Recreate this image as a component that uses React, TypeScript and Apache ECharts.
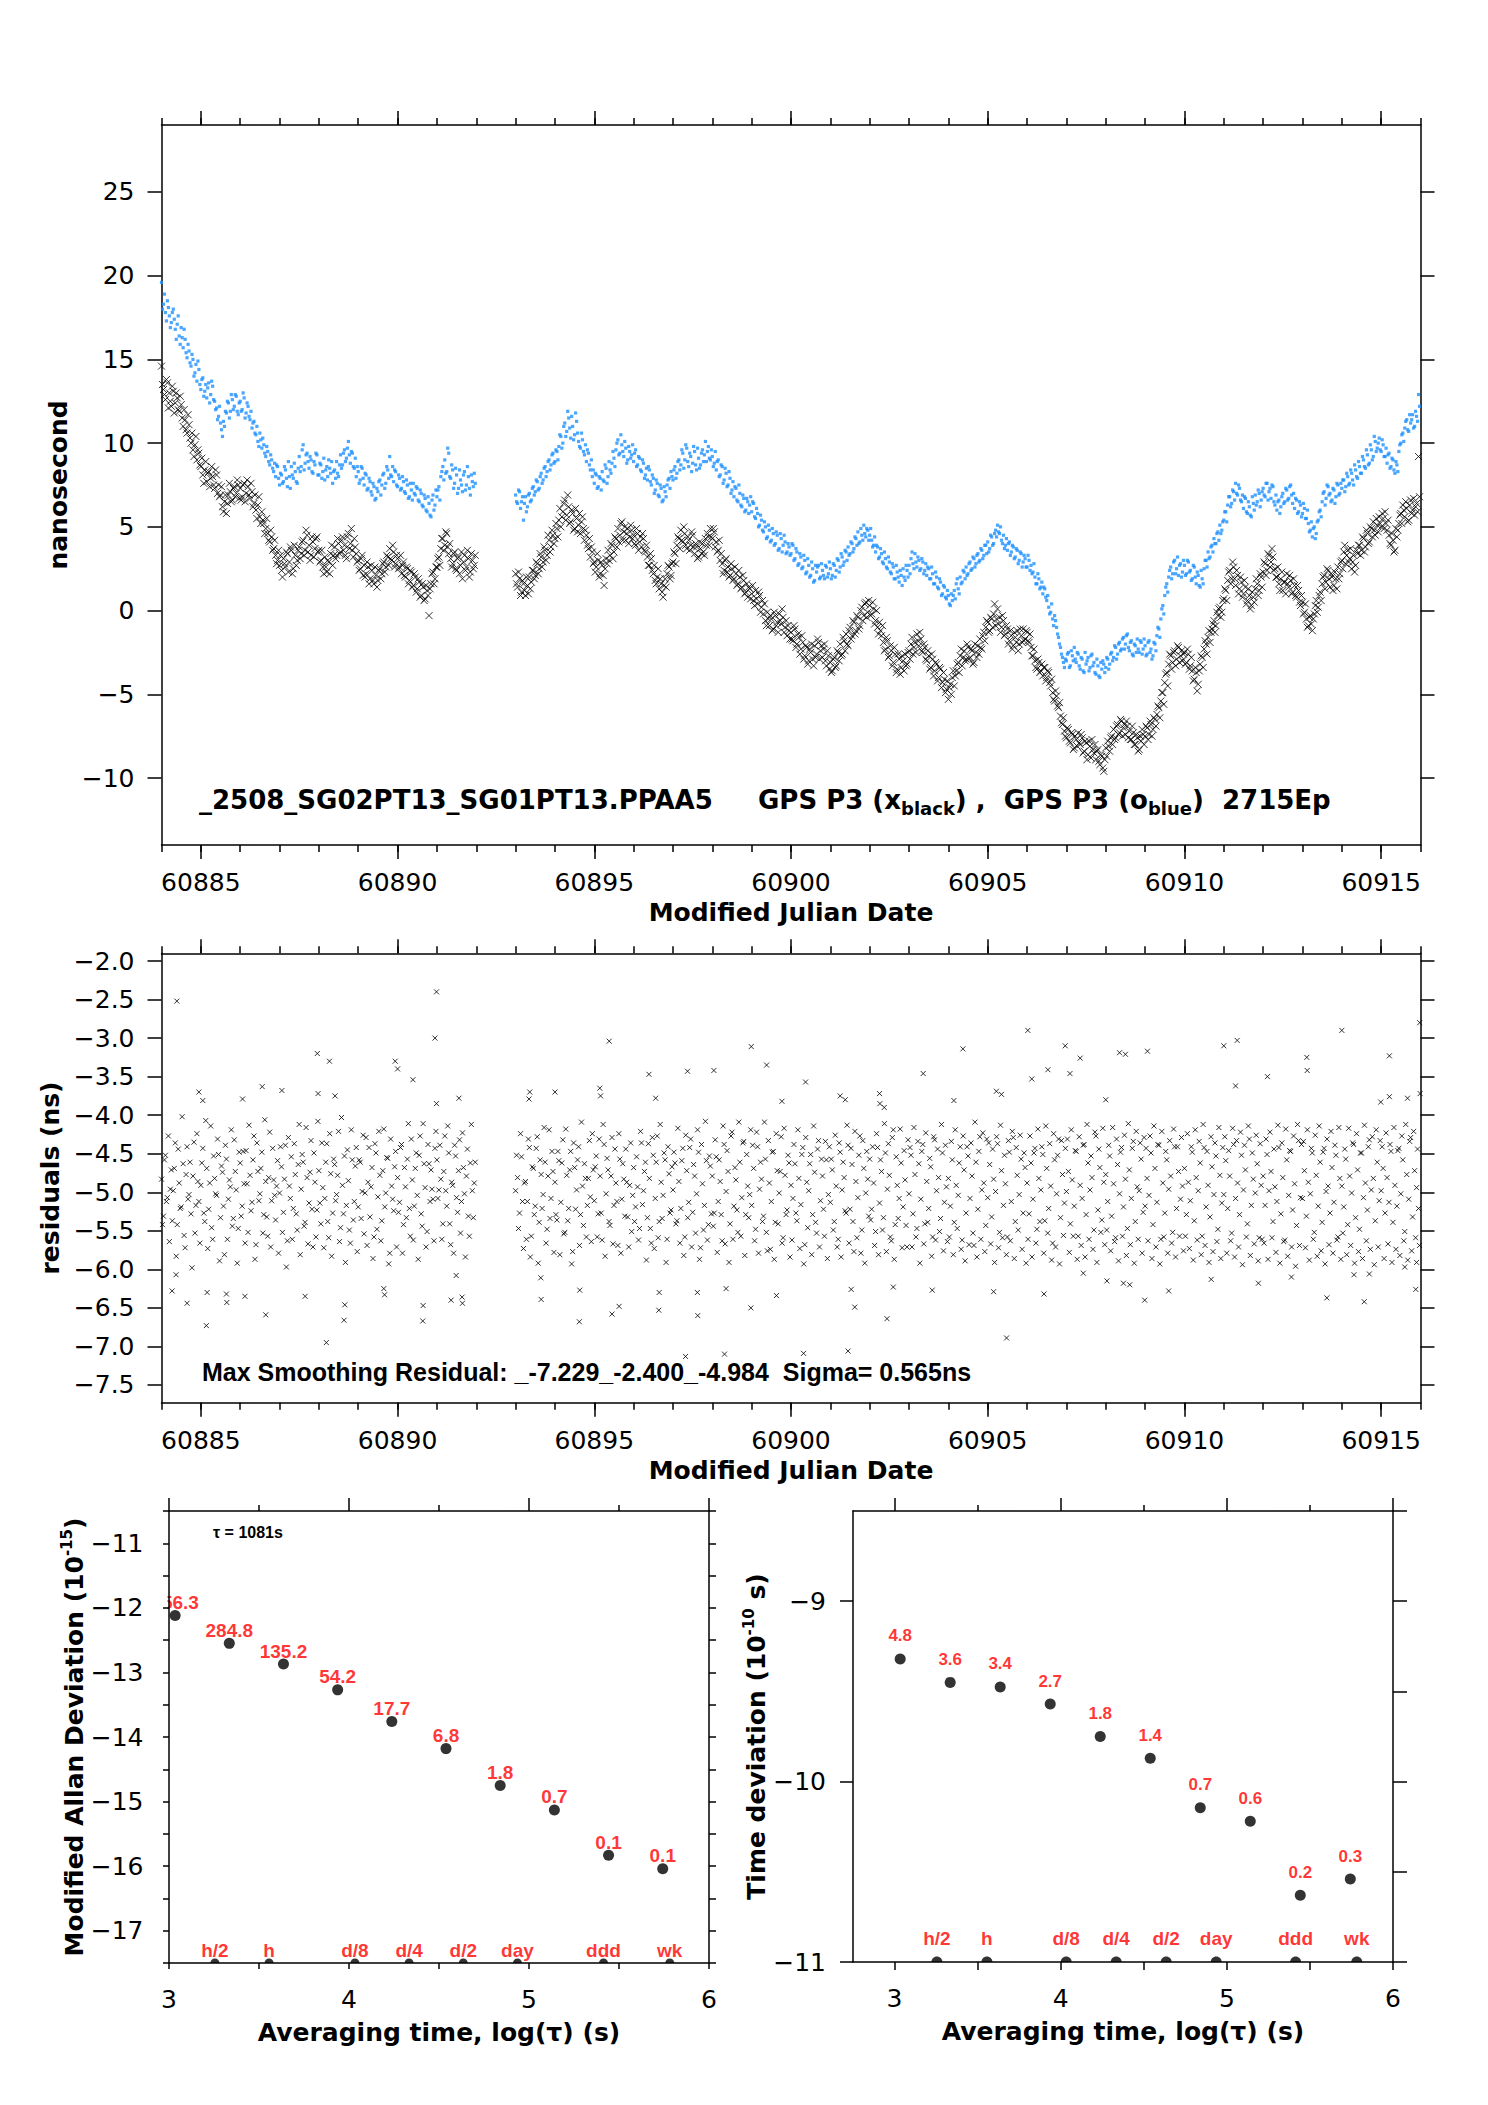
import React, { useEffect, useRef } from 'react';
import * as echarts from 'echarts';

const FONT = '"DejaVu Sans", sans-serif';
const FONT_H = '"Liberation Sans", Arial, sans-serif';
const BLUE = '#1e90ff';
const RED = '#ff0000';

// ---- Top & middle panels: epochs every 0.05 d in two segments (second set offset by half a step) ----
const EPOCH_STEP = 0.05;
const HALF_STEP = 0.025;
const SEG1_START = 60884.0;
const SEG2_START = 60893.0;
const MJD_MIN = 60884;
const MJD_MAX = 60916;
const mjdLabels = [60885, 60890, 60895, 60900, 60905, 60910, 60915];
const nsTicks = [-10, -5, 0, 5, 10, 15, 20, 25];
const residTicks = [-7.5, -7.0, -6.5, -6.0, -5.5, -5.0, -4.5, -4.0, -3.5, -3.0, -2.5, -2.0];

// GPS P3 (x, black) ns
const blackSeg1 = [
  14.6,13.2,12.6,13.6,13.0,12.2,13.1,12.4,12.7,11.9,12.3,11.0,11.4,10.6,11.1,10.0,9.6,9.9,9.0,9.4,
  8.6,8.1,8.4,7.7,8.3,7.9,8.0,7.3,8.1,7.5,6.9,6.2,6.5,5.8,6.9,7.1,6.6,7.4,7.0,7.5,
  7.3,6.8,7.6,7.0,7.4,6.7,7.1,6.4,6.0,6.3,5.6,5.9,5.2,4.9,4.6,4.1,4.4,3.7,3.3,3.0,
  2.7,2.4,3.1,2.6,3.4,2.9,3.6,2.5,3.3,3.0,3.8,3.4,4.2,3.6,4.5,3.9,3.3,4.1,3.7,4.4,
  3.6,3.0,2.6,3.2,2.3,2.9,3.4,2.7,3.8,3.3,4.0,3.5,4.4,3.9,3.1,4.6,4.0,3.6,4.3,3.4,
  3.0,2.5,3.3,2.7,2.2,2.6,1.9,2.4,1.6,2.1,1.8,2.5,2.2,2.9,2.6,3.2,3.7,3.0,3.5,2.8,
  3.1,2.6,2.2,2.9,2.0,2.5,1.8,2.3,1.5,2.0,1.3,1.7,0.9,1.4,0.7,1.2,-0.3,1.6,2.3,1.9,
  2.6,3.2,3.7,4.3,3.9,4.6,3.4,3.1,2.8,3.5,2.4,3.2,2.7,1.9,3.3,2.6,3.1,2.3,3.0,2.7,
];
const blackSeg1b = [
  13.5,12.9,13.8,12.1,12.5,13.4,11.8,13.0,12.0,12.8,11.5,12.0,10.8,11.7,10.3,10.6,9.2,10.4,9.6,8.7,
  9.1,7.6,8.9,8.2,7.4,8.6,7.5,8.4,7.0,6.8,7.4,5.9,6.9,6.4,7.6,6.5,7.3,6.8,7.8,6.7,
  6.6,7.5,6.5,7.8,6.9,7.6,6.2,6.9,5.5,6.8,5.2,5.4,4.6,5.5,4.2,4.8,3.6,4.2,2.8,3.6,
  3.3,2.0,2.8,3.5,2.3,3.8,2.2,3.9,2.7,3.6,3.1,4.1,3.3,4.8,3.5,3.0,4.4,3.2,4.3,3.5,
  2.9,3.6,2.2,2.6,3.0,2.2,3.9,3.3,3.1,4.3,3.4,4.2,3.6,3.3,4.4,3.7,4.9,3.2,3.8,2.9,
  2.4,3.1,2.1,2.0,2.9,1.6,2.7,1.8,2.6,1.4,2.4,1.9,2.8,2.3,3.3,2.7,3.1,3.9,2.6,3.3,
  2.5,3.3,2.7,2.1,2.6,1.6,2.4,1.4,2.2,1.1,1.9,0.8,1.6,0.6,1.5,0.9,1.3,2.2,1.6,2.6,
  3.1,2.7,4.3,3.6,4.7,3.8,4.0,2.6,3.4,2.5,3.1,2.2,3.5,2.9,2.4,3.6,2.0,3.4,2.5,3.3,
];
const blackSeg2 = [
  2.2,1.4,1.9,1.1,1.6,0.9,1.5,2.0,1.7,2.4,2.1,2.8,2.5,3.2,2.9,3.6,3.3,4.2,3.8,4.5,
  4.3,4.9,5.4,5.0,5.9,6.6,5.7,6.2,5.3,5.8,4.9,5.5,5.1,4.6,5.6,4.2,4.5,3.7,3.2,3.5,
  2.9,2.6,3.0,2.2,2.7,1.5,3.1,3.6,3.3,3.9,3.5,4.3,4.9,4.5,5.3,4.7,4.2,4.9,4.4,4.8,
  4.5,3.9,4.6,4.1,3.8,4.3,3.5,3.2,2.7,3.1,2.2,1.8,2.0,1.3,1.6,0.8,1.9,2.2,2.6,2.1,
  2.9,3.4,3.9,4.3,4.8,4.1,4.6,3.7,4.2,3.9,4.5,3.4,3.8,3.2,3.7,4.0,3.3,3.9,4.4,4.9,
  4.3,4.7,4.1,3.6,3.0,2.8,2.4,3.1,2.6,2.1,2.5,1.9,2.2,1.6,2.0,1.4,1.8,1.1,0.8,1.3,
  1.0,0.6,1.2,0.4,0.9,0.2,-0.2,-0.6,-0.1,-0.9,-0.5,-1.1,-0.3,-0.7,-0.2,-0.8,-0.4,-1.0,-1.5,-1.2,
  -1.3,-1.8,-1.1,-2.0,-1.6,-2.3,-1.9,-2.7,-2.2,-3.0,-2.5,-2.9,-2.1,-2.6,-1.9,-2.4,-2.8,-2.0,-3.3,-2.7,
  -3.1,-3.6,-2.8,-3.3,-2.5,-2.0,-2.6,-1.8,-1.4,-2.1,-1.0,-1.5,-0.7,-1.2,-0.4,-0.9,0.2,-0.3,0.5,-0.1,
  0.3,-0.2,0.1,-0.6,-1.0,-0.7,-1.5,-1.9,-2.3,-1.8,-2.7,-2.4,-3.1,-2.6,-3.5,-2.9,-3.4,-3.0,-2.6,-3.2,
  -2.4,-2.0,-2.6,-1.9,-1.4,-2.1,-1.7,-2.5,-2.2,-3.0,-2.7,-3.4,-2.9,-3.6,-3.2,-4.0,-3.5,-4.3,-4.1,-4.7,
  -5.3,-4.4,-4.0,-4.5,-3.6,-3.1,-2.7,-3.3,-2.4,-2.9,-2.2,-2.8,-2.4,-3.1,-2.5,-2.1,-1.7,-2.3,-1.3,-1.0,
  -0.7,-1.2,-0.5,-0.2,-0.9,0.1,-0.4,-1.0,-0.6,-1.4,-1.1,-1.8,-1.5,-2.1,-1.6,-1.2,-2.0,-1.5,-1.1,-1.7,
  -1.3,-1.9,-2.2,-2.7,-3.0,-3.5,-3.1,-3.6,-3.9,-3.4,-4.0,-3.7,-4.5,-4.9,-5.4,-5.1,-5.8,-6.3,-6.8,-7.2,
  -7.6,-7.1,-7.9,-7.4,-8.2,-7.7,-7.3,-8.0,-7.6,-8.4,-7.9,-8.6,-8.1,-7.7,-8.5,-8.9,-8.3,-9.2,-8.7,-9.6,
  -8.2,-7.8,-8.4,-7.5,-7.1,-7.6,-6.8,-7.3,-6.6,-7.0,-7.4,-6.9,-7.2,-7.7,-7.3,-8.0,-7.6,-8.3,-7.8,-7.4,
  -7.5,-7.0,-7.4,-6.8,-7.1,-6.5,-6.2,-5.8,-5.4,-4.9,-4.3,-3.7,-3.2,-2.7,-3.1,-2.4,-2.9,-2.2,-2.7,-3.0,
  -2.5,-3.1,-2.6,-3.3,-3.6,-4.1,-3.7,-4.4,-3.2,-2.8,-2.3,-2.0,-1.6,-1.9,-1.1,-0.6,-0.9,-0.3,0.2,-0.1,
  0.7,1.2,1.8,2.4,1.9,2.6,1.5,2.1,1.3,1.7,1.0,1.4,0.6,0.9,0.3,0.8,1.3,1.6,1.2,2.0,
  2.3,2.8,2.4,3.3,2.9,3.2,2.5,2.0,1.6,1.9,1.2,1.7,2.2,1.4,1.8,1.1,1.5,0.8,1.2,0.3,
  0.5,-0.1,-0.5,-0.9,-0.3,-1.2,-0.2,0.6,0.2,1.1,1.6,2.1,1.7,2.4,1.4,2.0,1.5,1.9,2.6,2.2,
  3.0,3.5,2.8,3.6,3.1,2.5,3.3,2.7,3.4,3.9,3.6,4.3,3.8,4.6,4.1,4.9,5.3,4.5,5.1,5.6,
  5.0,5.5,5.9,4.8,4.5,3.9,4.2,3.6,4.4,5.2,5.8,6.3,5.6,6.1,5.4,6.6,6.0,5.7,6.4,9.2,
];
const blackSeg2b = [
  1.6,2.3,0.9,1.8,1.2,2.0,1.0,1.3,2.4,1.9,2.9,2.2,3.4,2.6,3.8,3.0,4.5,3.5,4.8,4.0,
  5.2,4.4,6.1,5.6,6.4,5.4,6.9,5.2,6.0,4.8,6.1,4.7,5.8,5.3,4.9,4.8,3.9,4.3,3.8,2.8,
  2.3,3.4,2.0,2.9,2.1,2.5,2.8,3.0,4.0,3.1,4.4,3.8,4.1,5.2,4.2,5.0,4.6,4.0,5.1,4.3,
  4.0,4.9,3.6,4.4,4.6,3.6,3.9,2.7,3.4,2.4,2.7,1.6,2.5,1.9,1.1,1.5,1.4,2.7,1.9,2.8,
  3.5,2.8,4.4,3.7,4.2,5.0,3.9,4.4,3.6,4.7,3.8,4.0,3.1,4.1,3.4,3.5,4.3,4.6,3.9,4.4,
  4.9,3.8,3.5,4.2,3.4,2.2,3.0,2.3,2.0,2.8,1.8,2.6,1.5,2.4,1.3,2.1,1.0,1.6,1.4,0.7,
  1.5,0.3,0.7,1.1,-0.1,0.6,0.4,-0.9,-0.5,-0.3,-1.2,-0.1,-0.9,-1.3,-0.6,0.1,-1.3,-0.6,-0.9,-1.7,
  -1.7,-0.9,-2.2,-1.4,-2.6,-1.5,-2.9,-2.1,-3.2,-2.3,-2.0,-3.3,-2.8,-1.7,-2.9,-2.1,-2.3,-3.0,-2.4,-3.5,
  -3.7,-2.9,-3.4,-2.4,-3.0,-2.7,-1.6,-2.4,-2.0,-1.2,-1.7,-0.6,-1.4,-0.3,-1.1,0.0,-0.6,0.4,-0.4,0.6,
  -0.3,0.5,-0.8,0.0,-1.4,-1.2,-0.9,-2.4,-1.6,-2.8,-2.1,-3.3,-2.2,-3.7,-2.6,-3.8,-2.7,-3.6,-3.3,-2.5,
  -2.9,-1.6,-2.2,-2.5,-1.8,-1.3,-2.4,-2.0,-2.9,-2.4,-3.5,-2.6,-3.9,-3.1,-4.2,-3.4,-4.6,-3.7,-4.9,-4.2,
  -4.6,-5.0,-3.6,-3.9,-3.2,-3.7,-2.3,-2.8,-3.0,-2.0,-2.9,-2.3,-3.2,-2.0,-2.8,-2.6,-2.2,-1.5,-1.8,-0.6,
  -1.3,-0.4,-1.0,0.4,-0.5,-0.8,-1.3,-0.3,-1.5,-0.9,-2.0,-1.2,-2.3,-1.3,-1.9,-2.4,-1.1,-1.9,-1.8,-1.2,
  -1.8,-1.4,-2.7,-2.3,-3.4,-2.9,-3.7,-3.2,-3.4,-4.2,-3.6,-4.3,-4.1,-5.3,-4.8,-5.7,-5.5,-6.7,-6.4,-7.5,
  -7.0,-7.8,-7.3,-8.3,-7.5,-8.1,-7.9,-7.4,-8.5,-7.8,-8.9,-7.8,-8.8,-8.3,-8.0,-8.4,-9.0,-8.6,-9.4,-8.9,
  -8.7,-8.1,-7.6,-8.0,-7.7,-6.9,-7.4,-6.5,-7.5,-6.8,-6.6,-7.6,-7.7,-6.9,-8.0,-7.4,-8.4,-7.5,-7.1,-8.0,
  -6.9,-7.7,-6.6,-7.5,-6.4,-6.9,-5.7,-6.4,-4.9,-5.6,-3.8,-4.5,-2.6,-3.5,-2.5,-3.3,-2.1,-3.1,-2.4,-2.6,
  -3.2,-2.3,-3.5,-2.8,-4.2,-3.4,-4.8,-3.6,-2.7,-3.4,-1.8,-2.6,-1.2,-1.3,-0.8,-1.3,-0.1,0.1,-0.4,0.6,
  1.3,0.6,2.3,1.6,2.9,1.9,2.4,1.0,2.0,0.8,1.8,0.4,1.3,0.1,1.1,0.5,1.9,0.9,2.2,1.4,
  2.9,2.1,3.4,2.6,3.7,2.4,2.0,2.6,1.2,2.3,1.7,1.0,1.6,2.1,1.0,1.9,0.9,1.5,0.5,0.9,
  -0.2,0.4,-1.0,-0.4,-0.8,-0.5,0.3,-0.1,0.9,0.6,2.0,1.3,2.5,1.9,2.2,1.2,2.3,1.3,1.9,2.9,
  2.5,3.9,3.3,2.9,3.7,2.9,2.3,3.6,3.9,3.3,4.4,3.5,4.8,4.0,5.0,4.4,4.8,5.5,4.7,5.2,
  5.8,4.9,5.2,5.4,4.0,4.6,3.5,4.9,4.8,5.7,5.2,6.0,6.5,5.3,6.3,5.8,6.7,6.2,5.9,6.8,
];

// GPS P3 (o, blue) ns
const blueSeg1 = [
  19.6,18.3,17.8,18.5,17.6,17.2,18.0,16.8,17.1,16.4,16.9,15.7,16.2,15.1,15.5,14.6,15.0,14.2,13.7,14.4,
  13.2,13.9,13.1,12.7,13.6,12.9,13.4,12.5,12.1,11.6,11.2,10.4,11.0,11.8,12.4,11.9,12.6,12.2,12.8,11.7,
  12.5,12.0,12.7,11.8,12.2,11.4,10.9,11.3,10.5,10.1,10.6,9.7,9.9,9.2,9.5,8.7,9.0,8.3,8.0,8.6,
  7.5,8.1,7.7,8.4,7.4,8.0,8.6,7.9,8.3,7.6,9.2,8.6,9.9,8.8,9.4,8.5,9.0,8.2,8.7,9.3,
  8.1,8.7,8.3,7.8,8.6,9.0,8.2,7.6,8.4,8.9,8.0,9.3,8.7,9.6,9.1,10.1,8.8,9.4,8.5,8.0,
  8.3,7.8,8.5,7.5,8.1,7.3,7.7,6.9,7.4,6.7,7.1,7.8,7.5,8.2,7.6,8.4,9.2,8.0,7.7,8.3,
  7.4,7.9,7.3,7.7,7.0,7.5,6.8,7.2,7.6,6.9,7.3,6.5,7.0,6.2,6.7,5.9,6.4,5.6,6.9,6.3,
  6.8,7.4,8.0,8.6,9.0,8.3,9.4,7.9,8.4,7.6,8.1,7.3,7.8,7.1,8.3,7.5,8.0,6.9,7.7,8.2,
];
const blueSeg1b = [
  18.0,18.9,17.3,18.1,16.9,17.8,17.4,16.2,17.6,15.9,16.3,16.8,15.4,15.9,14.8,15.3,14.0,14.7,14.9,13.5,
  13.8,12.8,13.5,13.3,12.4,13.7,12.6,12.0,11.4,12.2,10.8,11.3,11.9,12.5,11.5,12.9,12.0,12.9,11.9,12.4,
  11.9,13.0,11.5,12.4,11.6,11.9,11.2,10.6,11.0,9.8,10.2,10.3,9.4,9.8,8.9,9.3,8.5,8.8,8.7,7.9,
  8.2,7.6,8.6,7.9,8.9,7.3,8.1,8.8,7.7,8.5,8.3,9.6,8.4,9.3,8.9,9.2,8.3,8.9,9.4,8.1,
  8.8,7.9,9.1,8.4,8.0,8.5,8.9,8.3,7.9,8.2,8.7,8.5,9.4,8.9,9.7,9.3,9.5,8.6,9.1,8.6,
  7.6,8.6,7.9,8.2,7.2,7.9,7.1,7.6,6.6,7.3,7.7,6.9,8.1,7.3,8.6,7.9,8.1,8.6,8.4,7.5,
  8.1,7.2,8.0,7.1,7.8,6.7,7.6,6.6,7.0,7.4,6.6,7.2,6.3,6.9,6.0,6.8,5.7,6.6,6.0,7.2,
  7.2,6.6,8.3,7.8,8.2,9.7,8.0,8.7,7.3,8.5,7.0,8.4,7.5,8.1,7.2,8.6,7.3,8.1,7.4,7.6,
];
const blueSeg2 = [
  6.9,6.4,7.1,6.5,5.4,6.8,6.2,7.0,6.6,7.4,7.1,7.7,7.3,8.2,7.8,8.6,8.3,9.0,8.7,9.4,
  8.9,9.5,9.8,10.4,10.0,11.2,10.7,11.5,10.3,11.0,10.5,11.3,10.1,9.7,10.2,9.3,8.9,9.4,8.4,8.0,
  7.6,8.1,7.4,7.9,8.3,7.7,8.5,8.0,8.4,8.8,9.1,9.6,10.2,9.4,9.9,9.2,9.7,9.0,9.5,9.3,
  8.9,9.6,8.7,9.1,8.3,8.8,8.1,7.8,8.4,7.5,7.9,7.2,7.6,6.8,7.3,6.6,7.1,7.5,7.9,8.3,
  7.8,8.6,8.2,9.0,8.7,9.4,9.0,9.7,8.6,9.2,8.8,9.5,8.4,9.1,8.7,9.6,9.3,8.9,9.8,9.0,
  9.2,8.8,8.4,9.0,8.1,8.6,7.8,8.2,7.5,7.9,7.2,6.8,7.3,6.5,7.0,6.2,6.7,6.0,6.5,6.3,
  5.9,6.4,5.5,5.8,5.1,5.4,4.7,5.0,4.4,4.8,4.2,4.6,4.0,4.5,3.7,4.3,3.9,4.1,3.5,3.8,
  3.4,3.9,3.1,3.5,2.8,3.2,2.6,3.0,2.3,2.7,2.1,2.5,1.8,2.3,2.7,2.0,2.4,1.9,2.6,2.2,
  2.5,2.1,2.7,2.4,3.0,2.6,3.2,2.9,3.5,3.8,3.4,4.0,3.7,4.3,4.7,4.1,4.5,5.1,4.4,4.8,
  4.5,4.2,3.9,3.5,3.8,3.2,3.4,2.8,3.1,2.5,2.9,2.2,2.6,1.9,2.3,1.7,2.1,2.5,1.8,2.4,
  2.7,3.1,2.8,3.4,2.6,3.0,2.5,2.9,2.4,2.1,2.5,1.9,2.2,1.6,2.0,1.3,1.7,1.0,1.4,0.7,
  0.9,0.3,0.6,1.2,1.6,1.3,2.0,1.7,2.3,2.6,2.2,2.9,2.5,3.1,2.8,3.4,3.0,3.6,3.3,3.9,
  4.1,3.7,4.4,4.0,4.8,5.1,4.6,4.2,4.5,3.9,3.6,4.1,3.5,3.8,3.2,3.6,3.0,3.4,2.9,3.1,
  2.6,3.0,2.7,2.3,2.0,1.6,1.9,1.4,1.0,1.3,0.6,0.2,-0.1,-0.5,-0.3,-1.0,-1.6,-2.2,-2.8,-3.4,
  -3.0,-2.5,-3.3,-2.7,-2.2,-3.1,-2.6,-3.5,-2.9,-3.7,-3.2,-2.8,-3.4,-2.6,-3.1,-3.8,-3.3,-4.0,-3.5,-3.2,
  -3.4,-2.9,-3.2,-2.5,-2.8,-2.2,-2.6,-1.9,-2.3,-1.6,-2.0,-1.4,-2.4,-1.8,-2.7,-2.1,-1.7,-2.5,-1.9,-2.3,
  -2.1,-2.6,-1.8,-2.3,-2.7,-2.0,-1.5,-1.1,-0.5,0.3,0.9,1.6,2.0,2.6,2.2,3.0,2.5,2.1,2.8,2.3,
  2.7,2.2,2.9,2.4,1.9,2.6,1.6,2.1,1.4,1.9,2.5,3.0,3.5,3.2,3.9,4.3,4.0,4.7,5.1,4.8,
  5.4,5.9,6.3,6.8,6.4,7.1,7.6,6.9,7.3,6.5,6.1,6.7,5.8,6.2,5.6,6.4,6.9,6.5,7.0,6.6,
  7.3,6.8,7.6,7.1,6.7,7.4,6.3,6.0,6.6,6.2,7.0,6.5,7.2,6.7,7.5,6.4,6.1,6.6,5.9,6.3,
  5.8,6.1,5.5,5.2,4.8,4.4,5.0,4.6,5.4,6.0,6.5,7.1,6.7,7.4,7.0,6.6,7.2,6.8,7.5,7.0,
  7.3,7.8,7.4,8.0,7.6,8.2,7.5,8.4,7.9,8.6,8.2,9.0,8.5,9.3,8.8,9.6,9.2,10.1,9.7,10.3,
  9.5,9.9,9.2,8.8,9.4,8.6,9.0,8.2,8.7,9.5,10.0,10.6,10.9,11.4,10.7,11.2,11.7,11.0,11.6,12.9,
];
const blueSeg2b = [
  6.5,7.2,6.1,6.8,6.4,5.9,6.9,6.5,7.3,6.9,7.8,7.2,8.0,7.6,8.5,8.0,8.9,8.4,9.3,8.8,
  9.6,9.0,10.5,9.7,11.0,10.4,11.9,10.9,11.6,10.2,11.8,10.6,9.8,10.6,9.5,9.9,9.6,8.7,9.0,8.4,
  8.2,7.3,8.0,7.2,7.8,8.7,7.6,8.9,8.2,9.5,8.6,10.0,9.3,10.5,9.5,10.1,8.8,9.8,9.1,9.9,
  9.4,8.6,9.2,8.4,9.0,7.9,8.5,8.6,7.7,8.1,7.0,7.8,6.9,7.5,6.5,7.4,6.8,7.8,7.3,8.0,
  8.4,7.9,8.9,8.4,9.6,8.5,9.9,8.9,9.4,8.3,9.8,8.7,9.7,8.5,9.4,8.9,10.1,9.5,9.1,9.6,
  8.6,9.5,8.9,8.0,8.7,7.6,8.5,7.4,8.3,7.0,7.7,7.4,6.6,7.5,6.3,6.9,5.9,6.7,5.8,6.8,
  6.5,5.6,6.1,5.0,5.7,4.8,5.3,4.3,5.1,4.1,4.9,3.9,4.7,3.6,4.6,3.5,4.5,3.4,4.0,3.3,
  4.0,3.0,3.7,2.7,3.4,2.5,3.3,2.2,3.1,2.0,2.9,1.7,2.7,2.6,1.9,2.8,2.1,2.7,2.0,2.9,
  1.9,2.8,2.0,3.1,2.3,3.4,2.7,3.6,3.0,3.3,4.1,3.5,4.4,3.9,4.0,4.9,4.2,4.6,4.9,4.2,
  4.9,3.8,4.4,3.9,3.1,3.7,2.9,3.5,2.6,3.2,2.3,2.8,1.9,2.7,2.0,2.4,1.5,2.0,2.7,2.0,
  2.2,3.5,2.5,2.9,3.2,2.4,3.1,2.2,2.8,2.6,1.9,2.6,1.6,2.3,1.4,1.9,0.9,1.5,0.8,1.2,
  0.4,1.0,0.9,0.7,1.9,1.0,1.6,2.4,1.9,2.1,2.8,2.4,3.2,2.6,3.3,2.9,3.7,3.1,3.9,3.4,
  3.5,4.5,3.9,4.6,4.4,4.7,5.0,4.0,3.7,4.3,4.0,3.3,3.9,3.1,3.7,2.8,3.5,2.6,3.3,2.6,
  3.3,2.4,2.2,2.8,1.6,2.2,1.3,1.7,1.4,0.8,0.9,-0.2,0.4,-0.9,-0.6,-1.4,-2.0,-2.6,-3.1,-2.9,
  -2.6,-3.4,-2.4,-3.0,-2.9,-2.5,-3.3,-2.8,-3.6,-2.5,-3.0,-3.6,-2.7,-3.3,-3.7,-2.9,-3.9,-3.1,-3.0,-3.7,
  -2.8,-3.5,-2.6,-3.0,-2.1,-2.9,-2.0,-2.4,-1.7,-2.3,-1.5,-2.2,-1.9,-2.6,-2.0,-2.5,-2.3,-1.8,-2.6,-1.7,
  -2.7,-1.9,-2.5,-2.9,-1.9,-2.4,-1.0,-1.6,0.1,-0.2,1.4,1.1,2.4,1.9,2.9,2.2,3.2,2.7,2.0,3.0,
  2.1,3.0,2.3,1.8,2.7,2.0,2.3,1.5,2.4,1.6,3.0,2.6,3.1,3.8,3.5,4.0,4.6,4.2,4.6,5.3,
  5.9,5.3,6.8,6.2,7.2,6.6,7.0,7.5,6.6,6.9,6.8,5.9,6.5,5.7,6.8,6.0,6.3,7.2,6.2,7.1,
  6.9,7.6,6.6,7.3,7.5,6.5,6.9,6.5,5.8,6.8,6.4,7.3,6.6,7.4,6.9,7.0,6.7,5.8,6.5,5.6,
  6.4,5.5,6.0,4.7,5.3,4.9,4.3,5.3,5.9,5.6,7.0,6.3,7.5,6.9,6.5,7.3,6.4,7.6,6.9,7.6,
  7.8,7.1,8.2,7.5,8.4,7.8,8.7,8.0,8.9,8.2,9.2,8.6,9.6,8.7,9.9,9.0,10.4,9.5,10.0,9.6,
  10.2,9.2,9.7,9.3,8.5,9.1,8.4,8.9,8.3,9.9,10.5,10.1,11.3,10.8,11.7,11.4,10.9,11.9,11.3,12.2,
];

// Smoothing residuals (ns)
const residSeg1 = [
  -4.83,-5.31,-4.52,-5.07,-5.64,-4.71,-4.98,-4.36,-5.42,-4.88,-5.19,-4.63,-5.72,-4.41,-5.03,-5.28,-4.79,-5.53,-4.24,-5.12,
  -4.91,-4.43,-5.38,-4.69,-5.22,-4.14,-5.61,-4.82,-5.04,-4.51,-5.33,-4.74,-5.81,-4.57,-5.09,-4.93,-5.44,-4.32,-4.97,-5.47,
  -4.62,-5.18,-4.89,-4.46,-5.52,-4.78,-5.13,-4.27,-5.68,-4.73,-5.02,-4.48,-5.29,-4.86,-5.57,-4.22,-5.11,-4.84,-5.36,-4.59,
  -5.01,-4.67,-5.26,-4.39,-5.63,-4.92,-4.54,-5.21,-4.77,-5.49,-4.12,-4.96,-4.61,-5.39,-4.81,-5.14,-4.33,-5.71,-4.87,-5.23,
  -4.72,-5.41,-4.94,-5.08,-4.37,-5.59,-4.76,-5.27,-4.64,-5.03,-4.21,-5.46,-4.91,-4.53,-5.17,-4.85,-5.66,-4.58,-5.12,-4.42,
  -5.19,-4.61,-4.99,-5.54,-4.29,-4.87,-5.32,-4.68,-5.58,-4.49,-5.06,-4.78,-5.37,-4.18,-5.01,-4.56,-5.79,-4.92,-5.24,-4.47,
  -4.81,-5.13,-4.38,-5.42,-4.93,-4.57,-5.21,-4.31,-5.62,-4.69,-5.04,-4.52,-5.28,-4.11,-4.94,-5.51,-4.63,-4.71,-5.09,-4.43,
  -4.58,-4.97,-4.83,-5.41,-4.27,-5.18,-4.49,-5.68,-4.91,-4.39,-5.07,-4.72,-5.53,-4.23,-5.02,-4.79,-5.31,-4.62,-4.98,-4.88,
];
const residSeg1b = [
  -5.42,-4.58,-5.12,-4.27,-4.96,-5.37,-4.69,-5.83,-4.44,-5.21,-4.02,-5.56,-4.77,-5.09,-4.61,-5.98,-4.35,-5.17,-4.86,-5.66,
  -4.62,-5.27,-4.07,-5.73,-4.88,-5.46,-4.53,-5.02,-4.31,-5.89,-4.66,-5.18,-4.39,-5.61,-4.84,-4.19,-5.34,-4.73,-5.92,-4.48,
  -5.31,-4.47,-5.66,-4.89,-4.13,-5.24,-4.58,-5.87,-4.36,-5.11,-4.69,-5.53,-4.06,-5.32,-4.81,-5.71,-4.43,-5.04,-4.92,-5.79,
  -4.41,-5.52,-4.83,-5.97,-4.29,-5.08,-5.61,-4.37,-5.28,-4.64,-5.81,-4.51,-5.44,-4.16,-5.67,-4.74,-5.22,-4.49,-5.58,-4.08,
  -5.14,-4.36,-5.72,-4.61,-5.38,-4.24,-5.83,-4.57,-5.11,-4.78,-5.64,-4.03,-5.28,-5.91,-4.45,-5.49,-4.19,-5.36,-4.66,-5.77,
  -4.58,-5.34,-4.26,-5.01,-5.69,-4.42,-4.93,-5.86,-4.37,-5.48,-4.21,-5.63,-4.72,-5.19,-4.55,-5.93,-4.31,-5.09,-4.67,-5.71,
  -5.26,-4.42,-5.79,-4.68,-5.33,-4.11,-5.57,-4.84,-5.18,-4.49,-5.87,-4.27,-5.44,-4.63,-5.71,-4.38,-5.12,-4.96,-5.63,-4.21,
  -5.08,-4.39,-5.61,-4.73,-4.98,-4.14,-5.41,-4.87,-5.79,-4.53,-5.26,-4.32,-5.12,-4.68,-5.84,-4.44,-5.57,-4.12,-5.33,-4.61,
];
const residSeg2 = [
  -4.98,-4.81,-5.27,-4.54,-5.73,-4.86,-5.12,-4.42,-5.57,-4.69,-5.18,-4.28,-5.39,-4.77,-5.03,-4.61,-5.48,-4.19,-5.08,-4.73,
  -4.87,-5.36,-4.59,-5.13,-4.32,-5.52,-4.78,-5.21,-4.47,-5.77,-4.68,-4.97,-4.41,-5.29,-4.92,-4.63,-5.58,-4.82,-5.06,-4.24,
  -5.11,-4.53,-5.28,-4.79,-5.62,-4.38,-5.02,-4.71,-5.43,-4.29,-5.17,-4.88,-5.69,-4.57,-5.09,-4.83,-4.44,-5.32,-4.91,-5.51,
  -4.68,-5.19,-4.93,-5.47,-4.36,-4.98,-4.61,-5.33,-4.82,-5.66,-4.52,-5.08,-4.27,-5.38,-4.87,-5.04,-4.58,-5.61,-4.76,-5.23,
  -4.97,-4.62,-5.37,-4.86,-5.21,-4.43,-5.58,-4.72,-5.13,-4.31,-5.26,-4.79,-5.02,-4.48,-5.72,-4.89,-5.17,-4.59,-5.42,-4.66,
  -4.79,-5.27,-4.54,-5.12,-4.86,-5.63,-4.38,-4.99,-4.73,-5.41,-4.22,-5.18,-4.84,-5.52,-4.61,-5.07,-4.34,-5.29,-4.92,-5.03,
  -5.17,-4.69,-5.48,-4.41,-4.96,-4.83,-5.31,-4.57,-5.76,-4.88,-5.12,-4.47,-5.39,-4.72,-5.01,-4.28,-5.59,-4.78,-5.23,-4.62,
  -4.91,-5.08,-4.63,-5.37,-4.82,-5.16,-4.42,-5.68,-4.87,-4.98,-4.51,-5.29,-4.74,-5.53,-4.33,-5.11,-4.79,-5.57,-4.58,-5.03,
  -5.13,-4.71,-5.38,-4.92,-5.61,-4.48,-4.97,-4.81,-5.27,-4.39,-5.22,-4.64,-5.77,-4.86,-5.07,-4.27,-5.49,-4.69,-5.01,-4.83,
  -4.57,-5.22,-4.88,-5.51,-4.42,-5.14,-4.73,-5.33,-4.49,-4.96,-4.78,-5.63,-4.19,-5.42,-4.91,-5.08,-4.62,-5.19,-4.84,-5.71,
  -5.02,-4.52,-5.28,-4.77,-5.47,-4.63,-5.09,-4.38,-5.41,-4.86,-5.21,-4.67,-5.58,-4.32,-4.98,-4.81,-5.34,-4.49,-5.13,-4.93,
  -4.82,-5.18,-4.58,-5.39,-4.91,-5.04,-4.41,-5.62,-4.71,-5.27,-4.53,-5.08,-4.79,-5.69,-4.61,-5.22,-4.28,-4.97,-4.88,-5.43,
  -5.07,-4.64,-5.32,-4.83,-4.99,-4.37,-5.52,-4.72,-5.17,-4.89,-5.58,-4.48,-5.12,-4.29,-5.38,-4.78,-5.03,-4.57,-5.27,-4.68,
  -4.88,-5.28,-4.62,-5.09,-4.43,-5.48,-4.82,-4.97,-4.51,-5.37,-4.69,-5.21,-4.92,-5.66,-4.58,-5.02,-4.31,-5.33,-4.77,-5.14,
  -4.99,-4.73,-5.41,-4.84,-5.18,-4.47,-5.57,-4.91,-5.08,-4.38,-5.29,-4.62,-4.97,-4.81,-5.49,-4.27,-5.23,-4.68,-5.36,-4.87,
  -4.77,-5.12,-4.53,-5.31,-4.89,-5.59,-4.64,-5.02,-4.42,-5.19,-4.83,-5.47,-4.71,-5.08,-4.34,-5.38,-4.93,-4.98,-4.57,-5.26,
  -5.18,-4.82,-5.04,-4.49,-5.42,-4.69,-5.13,-4.39,-5.61,-4.88,-5.27,-4.58,-4.96,-4.79,-5.52,-4.41,-5.21,-4.73,-5.09,-4.92,
  -4.69,-5.29,-4.87,-5.11,-4.48,-5.37,-4.81,-4.98,-4.62,-5.57,-4.42,-5.19,-4.91,-5.32,-4.67,-5.03,-4.53,-5.48,-4.78,-5.14,
  -5.03,-4.59,-5.21,-4.79,-5.53,-4.38,-5.08,-4.88,-5.29,-4.52,-4.97,-4.71,-5.41,-4.31,-5.17,-4.83,-5.01,-4.63,-5.59,-4.91,
  -4.79,-5.17,-4.51,-4.98,-4.73,-5.38,-4.93,-5.12,-4.42,-5.28,-4.81,-5.62,-4.58,-5.04,-4.47,-5.23,-4.89,-5.43,-4.33,-5.07,
  -5.08,-4.72,-5.31,-4.87,-5.02,-4.49,-5.52,-4.78,-5.18,-4.61,-5.39,-4.43,-4.99,-4.92,-5.27,-4.68,-5.13,-4.52,-5.58,-4.82,
  -4.92,-5.19,-4.57,-5.42,-4.79,-5.01,-4.38,-5.33,-4.71,-5.48,-4.49,-5.07,-4.88,-5.23,-4.32,-4.97,-4.82,-5.37,-4.61,-5.11,
  -4.98,-4.69,-5.27,-4.81,-5.13,-4.47,-5.39,-4.91,-5.18,-4.43,-5.02,-4.58,-5.51,-4.77,-5.09,-4.29,-5.32,-4.72,-4.94,-5.21,
];
const residSeg2b = [
  -4.52,-5.47,-4.24,-5.12,-4.88,-5.61,-4.31,-5.84,-4.67,-5.29,-4.43,-5.92,-4.58,-5.21,-4.16,-5.66,-4.79,-5.34,-4.47,-5.78,
  -5.29,-4.47,-5.81,-4.62,-5.54,-4.18,-5.37,-4.71,-5.93,-4.36,-5.22,-4.58,-5.69,-4.09,-5.43,-4.82,-5.17,-4.33,-5.64,-4.71,
  -4.67,-5.58,-4.31,-5.27,-4.12,-5.83,-4.56,-5.38,-4.79,-5.67,-4.44,-5.12,-4.24,-5.79,-4.63,-5.31,-4.87,-5.71,-4.36,-5.04,
  -5.38,-4.54,-5.62,-4.21,-5.16,-4.73,-5.88,-4.37,-5.47,-4.29,-5.73,-4.61,-5.59,-4.12,-5.34,-4.49,-5.91,-4.41,-5.27,-4.67,
  -4.48,-5.41,-4.17,-5.66,-4.59,-5.82,-4.26,-5.33,-4.42,-5.71,-4.64,-5.53,-4.19,-5.87,-4.38,-5.49,-4.08,-5.62,-4.53,-5.28,
  -5.44,-4.32,-5.78,-4.58,-5.29,-4.14,-5.67,-4.46,-5.91,-4.27,-5.61,-4.68,-5.23,-4.09,-5.57,-4.36,-5.82,-4.51,-5.33,-4.19,
  -4.39,-5.63,-4.22,-5.79,-4.61,-5.38,-4.09,-5.52,-4.33,-5.74,-4.48,-5.87,-4.24,-5.41,-4.73,-5.66,-4.17,-5.29,-4.52,-5.84,
  -5.62,-4.38,-5.27,-4.19,-5.73,-4.51,-5.93,-4.29,-5.46,-4.63,-5.81,-4.14,-5.39,-4.44,-5.71,-4.57,-5.22,-4.34,-5.86,-4.41,
  -4.57,-5.49,-4.26,-5.71,-4.36,-5.84,-4.61,-5.24,-4.13,-5.66,-4.43,-5.38,-4.21,-5.59,-4.52,-5.79,-4.33,-5.92,-4.47,-5.31,
  -5.36,-4.41,-5.69,-4.24,-5.81,-4.58,-5.49,-4.11,-5.77,-4.37,-5.58,-4.29,-5.87,-4.54,-5.34,-4.18,-5.72,-4.46,-5.43,-4.32,
  -4.42,-5.71,-4.16,-5.58,-4.34,-5.92,-4.47,-5.67,-4.23,-5.39,-4.56,-5.83,-4.28,-5.62,-4.44,-5.51,-4.12,-5.76,-4.39,-5.64,
  -5.58,-4.34,-5.81,-4.19,-5.47,-4.62,-5.74,-4.27,-5.89,-4.41,-5.68,-4.36,-5.53,-4.09,-5.84,-4.47,-5.61,-4.23,-5.77,-4.31,
  -4.36,-5.67,-4.44,-5.91,-4.28,-5.72,-4.13,-5.59,-4.52,-5.81,-4.33,-5.63,-4.21,-5.86,-4.42,-5.49,-4.26,-5.74,-4.49,-5.92,
  -5.61,-4.27,-5.84,-4.49,-5.66,-4.18,-5.38,-4.41,-5.79,-4.14,-5.53,-4.37,-5.88,-4.24,-5.71,-4.52,-5.93,-4.33,-5.56,-4.43,
  -4.31,-5.78,-4.19,-5.57,-4.46,-5.87,-4.28,-5.69,-4.39,-5.84,-4.12,-5.61,-4.53,-5.74,-4.22,-5.91,-4.44,-5.52,-4.17,-5.68,
  -5.49,-4.39,-5.76,-4.16,-5.64,-4.31,-5.89,-4.48,-5.57,-4.26,-5.82,-4.11,-5.68,-4.43,-5.92,-4.21,-5.61,-4.36,-5.79,-4.29,
  -4.43,-5.63,-4.27,-5.86,-4.14,-5.71,-4.38,-5.93,-4.21,-5.58,-4.47,-5.79,-4.33,-5.66,-4.18,-5.84,-4.41,-5.57,-4.29,-5.76,
  -5.57,-4.24,-5.73,-4.41,-5.88,-4.19,-5.62,-4.34,-5.81,-4.12,-5.69,-4.47,-5.91,-4.28,-5.77,-4.36,-5.64,-4.16,-5.86,-4.42,
  -4.28,-5.79,-4.46,-5.63,-4.17,-5.84,-4.33,-5.71,-4.22,-5.94,-4.39,-5.58,-4.14,-5.82,-4.49,-5.67,-4.26,-5.89,-4.37,-5.61,
  -5.66,-4.31,-5.87,-4.22,-5.59,-4.44,-5.78,-4.13,-5.92,-4.36,-5.64,-4.18,-5.83,-4.46,-5.71,-4.27,-5.96,-4.12,-5.69,-4.38,
  -4.34,-5.72,-4.19,-5.88,-4.43,-5.61,-4.26,-5.83,-4.14,-5.76,-4.48,-5.93,-4.31,-5.68,-4.21,-5.79,-4.39,-5.62,-4.16,-5.87,
  -5.53,-4.44,-5.81,-4.17,-5.69,-4.36,-5.92,-4.24,-5.77,-4.49,-5.86,-4.13,-5.63,-4.41,-5.74,-4.28,-5.94,-4.19,-5.71,-4.33,
  -4.41,-5.86,-4.23,-5.67,-4.38,-5.91,-4.16,-5.74,-4.46,-5.82,-4.27,-5.63,-4.12,-5.88,-4.34,-5.76,-4.21,-5.59,-4.44,-5.69,
];
// Isolated residuals: [MJD, ns]
const residOutliers = [
  [60884.39,-2.52],[60890.99,-2.40],[60890.95,-3.00],[60887.96,-3.20],[60888.27,-3.30],[60889.94,-3.30],[60890.00,-3.40],
  [60890.39,-3.54],[60886.56,-3.63],[60887.06,-3.68],[60884.95,-3.70],[60885.05,-3.81],[60887.98,-3.72],[60888.41,-3.75],
  [60886.06,-3.79],[60891.56,-3.78],[60890.99,-3.85],[60895.38,-3.04],[60898.99,-3.11],[60899.38,-3.35],[60898.04,-3.42],
  [60897.37,-3.43],[60896.39,-3.47],[60899.77,-3.82],[60896.56,-3.78],[60893.36,-3.70],[60893.34,-3.79],[60894.00,-3.70],
  [60895.14,-3.65],[60895.16,-3.75],
  [60885.14,-6.73],[60888.19,-6.95],[60886.65,-6.59],[60888.64,-6.66],[60890.64,-6.67],[60890.65,-6.47],[60888.66,-6.46],
  [60884.65,-6.44],[60884.27,-6.28],[60885.16,-6.30],[60885.65,-6.32],[60885.66,-6.43],[60886.12,-6.35],[60887.65,-6.35],
  [60889.65,-6.25],[60889.67,-6.33],[60891.36,-6.40],[60891.64,-6.36],[60891.65,-6.44],[60891.49,-6.08],[60884.37,-6.07],
  [60894.62,-6.68],[60895.45,-6.58],[60895.63,-6.48],[60896.64,-6.53],[60896.65,-6.30],[60897.63,-6.60],[60897.62,-6.30],
  [60897.32,-7.13],[60898.31,-7.10],[60898.98,-6.50],[60899.63,-6.34],[60893.65,-6.39],[60893.64,-6.11],[60894.63,-6.27],
  [60898.35,-6.25],
  [60906.02,-2.90],[60914.00,-2.90],[60915.98,-2.80],[60911.34,-3.03],[60911.00,-3.10],[60906.97,-3.10],[60904.37,-3.14],
  [60909.06,-3.17],[60908.35,-3.19],[60908.50,-3.21],[60907.35,-3.26],[60913.11,-3.25],[60913.12,-3.42],[60915.21,-3.23],
  [60906.53,-3.41],[60903.36,-3.46],[60907.09,-3.46],[60906.12,-3.53],[60912.11,-3.50],[60900.37,-3.57],[60911.30,-3.62],
  [60905.22,-3.69],[60905.35,-3.73],[60901.25,-3.75],[60901.38,-3.80],[60902.25,-3.72],[60902.26,-3.85],[60902.37,-3.90],
  [60908.00,-3.80],[60904.14,-3.81],[60914.99,-3.83],[60915.21,-3.76],[60915.67,-3.78],[60915.99,-3.72],
  [60900.32,-7.09],[60901.45,-7.06],[60905.48,-6.89],[60902.44,-6.64],[60901.62,-6.49],[60913.62,-6.37],[60914.57,-6.42],
  [60908.99,-6.40],[60901.53,-6.26],[60902.60,-6.23],[60903.59,-6.27],[60905.15,-6.29],[60906.43,-6.32],[60909.60,-6.28],
  [60908.03,-6.15],[60908.45,-6.18],[60908.61,-6.20],[60911.88,-6.18],[60915.88,-6.26],[60910.68,-6.13],[60912.72,-6.10],
  [60907.43,-6.05],[60914.31,-6.07],[60914.70,-6.06],[60915.60,-5.97],[60915.90,-5.91],
];

// ---- Bottom panels ----
const logTau = [3.034, 3.335, 3.636, 3.937, 4.238, 4.539, 4.840, 5.141, 5.442, 5.743];
const modAdev = [-12.12, -12.55, -12.87, -13.27, -13.76, -14.18, -14.75, -15.13, -15.83, -16.04];
const modAdevLabels = ['556.3', '284.8', '135.2', '54.2', '17.7', '6.8', '1.8', '0.7', '0.1', '0.1'];
const tdev = [-9.32, -9.45, -9.475, -9.57, -9.75, -9.87, -10.145, -10.22, -10.63, -10.54];
const tdevLabels = ['4.8', '3.6', '3.4', '2.7', '1.8', '1.4', '0.7', '0.6', '0.2', '0.3'];
const markerNames = ['h/2', 'h', 'd/8', 'd/4', 'd/2', 'day', 'ddd', 'wk'];
const markerLogTau = [3.255, 3.556, 4.033, 4.334, 4.635, 4.936, 5.414, 5.782];
const adevYLabels = [-17, -16, -15, -14, -13, -12, -11];
const tdevYTicks = [-11, -10, -9];
const tauLabels = [3, 4, 5, 6];

const X_MARK = 'path://M0,0L10,10M10,0L0,10';
const HALF_DOT = 'path://M0,10C0,4.477 4.477,0 10,0C15.523,0 20,4.477 20,10Z';

function fmt(v: number, digits = 0): string {
  const s = Math.abs(v).toFixed(digits);
  return v < 0 ? '\u2212' + s : s;
}

function segData(start: number, vals: number[]) {
  return vals.map((v, i) => [start + i * EPOCH_STEP, v]);
}

const AXIS_LINE = { show: true, onZero: false, lineStyle: { color: '#000', width: 1.5 } };
const NO_LINE = { show: false, onZero: false };
const TICK = { color: '#000', width: 1.5 };
const LABEL = { color: '#000', fontFamily: FONT, fontSize: 25 };
const NAME = { color: '#000', fontFamily: FONT, fontSize: 25, fontWeight: 'bold' as const };

function mjdAxes(g: number) {
  const base = { type: 'value' as const, gridIndex: g, min: MJD_MIN, max: MJD_MAX, splitLine: { show: false } };
  return [
    {
      ...base, position: 'bottom', interval: 1, axisLine: AXIS_LINE,
      axisTick: { show: true, inside: false, length: 7, lineStyle: TICK },
      axisLabel: { show: true, customValues: mjdLabels, margin: 25, formatter: (v: number) => String(v), ...LABEL },
      name: 'Modified Julian Date', nameLocation: 'middle', nameGap: 55, nameTextStyle: NAME,
    },
    {
      ...base, position: 'bottom', axisLine: NO_LINE,
      axisTick: { show: true, inside: false, customValues: mjdLabels, length: 14, lineStyle: TICK },
      axisLabel: { show: false },
    },
    {
      ...base, position: 'top', interval: 1, axisLine: AXIS_LINE,
      axisTick: { show: true, inside: false, length: 7, lineStyle: TICK },
      axisLabel: { show: false },
    },
    {
      ...base, position: 'top', axisLine: NO_LINE,
      axisTick: { show: true, inside: false, customValues: mjdLabels, length: 14, lineStyle: TICK },
      axisLabel: { show: false },
    },
  ];
}

function tauAxes(g: number, min: number, bottomTick: any) {
  const base = { type: 'value' as const, gridIndex: g, min, max: 6, splitLine: { show: false } };
  return [
    {
      ...base, position: 'bottom', ...(bottomTick.interval ? { interval: bottomTick.interval } : {}), axisLine: AXIS_LINE,
      axisTick: {
        show: true, inside: false, length: bottomTick.length, lineStyle: TICK,
        ...(bottomTick.values ? { customValues: bottomTick.values } : {}),
      },
      axisLabel: { show: true, customValues: tauLabels, margin: 24, formatter: (v: number) => String(v), ...LABEL },
      name: 'Averaging time, log(\u03c4) (s)', nameLocation: 'middle', nameGap: 57, nameTextStyle: NAME,
    },
    {
      ...base, position: 'top', axisLine: AXIS_LINE,
      axisTick: { show: true, inside: false, customValues: tauLabels, length: 13, lineStyle: TICK },
      axisLabel: { show: false },
    },
    {
      ...base, position: 'top', axisLine: NO_LINE,
      axisTick: { show: true, inside: false, customValues: [3.5, 4.5, 5.5], length: 6, lineStyle: TICK },
      axisLabel: { show: false },
    },
  ];
}

const RICH_NAME = {
  a: { fontFamily: FONT, fontSize: 25, fontWeight: 'bold', color: '#000', lineHeight: 30 },
  s: { fontFamily: FONT, fontSize: 15, fontWeight: 'bold', color: '#000', lineHeight: 15, verticalAlign: 'top' },
};

function buildOption(): any {
  const xAxis = [
    ...mjdAxes(0),
    ...mjdAxes(1),
    ...tauAxes(2, 3, { interval: 0.5, length: 6 }),
    ...tauAxes(3, 2.75, { values: [3, 3.5, 4, 4.5, 5, 5.5, 6], length: 8 }),
  ];

  const yAxis = [
    {
      type: 'value', gridIndex: 0, position: 'left', min: -14, max: 29, splitLine: { show: false }, axisLine: AXIS_LINE,
      axisTick: { show: true, inside: false, customValues: nsTicks, length: 14, lineStyle: TICK },
      axisLabel: { show: true, customValues: nsTicks, margin: 27, formatter: (v: number) => fmt(v), ...LABEL },
      name: 'nanosecond', nameLocation: 'middle', nameGap: 74, nameTextStyle: NAME,
    },
    {
      type: 'value', gridIndex: 0, position: 'right', min: -14, max: 29, splitLine: { show: false }, axisLine: AXIS_LINE,
      axisTick: { show: true, inside: false, customValues: nsTicks, length: 14, lineStyle: TICK },
      axisLabel: { show: false },
    },
    {
      type: 'value', gridIndex: 1, position: 'left', min: -7.73, max: -1.9, splitLine: { show: false }, axisLine: AXIS_LINE,
      axisTick: { show: true, inside: false, customValues: residTicks, length: 14, lineStyle: TICK },
      axisLabel: { show: true, customValues: residTicks, margin: 27, formatter: (v: number) => fmt(v, 1), ...LABEL },
      name: 'residuals (ns)', nameLocation: 'middle', nameGap: 76, nameTextStyle: NAME,
    },
    {
      type: 'value', gridIndex: 1, position: 'right', min: -7.73, max: -1.9, splitLine: { show: false }, axisLine: AXIS_LINE,
      axisTick: { show: true, inside: false, customValues: residTicks, length: 14, lineStyle: TICK },
      axisLabel: { show: false },
    },
    {
      type: 'value', gridIndex: 2, position: 'left', min: -17.5, max: -10.5, interval: 0.5, z: 60,
      splitLine: { show: false }, axisLine: AXIS_LINE,
      axisTick: { show: true, inside: false, length: 6, lineStyle: TICK },
      axisLabel: { show: true, customValues: adevYLabels, margin: 25.5, formatter: (v: number) => fmt(v), ...LABEL },
      name: '{a|Modified Allan Deviation (10}{s|-15}{a|)}', nameLocation: 'middle', nameGap: 79,
      nameTextStyle: { ...NAME, rich: RICH_NAME },
    },
    {
      type: 'value', gridIndex: 2, position: 'right', min: -17.5, max: -10.5, interval: 0.5,
      splitLine: { show: false }, axisLine: AXIS_LINE,
      axisTick: { show: true, inside: false, length: 7, lineStyle: TICK },
      axisLabel: { show: false },
    },
    {
      type: 'value', gridIndex: 3, position: 'left', min: -11, max: -8.5, splitLine: { show: false }, axisLine: AXIS_LINE,
      axisTick: { show: true, inside: false, customValues: tdevYTicks, length: 13, lineStyle: TICK },
      axisLabel: { show: true, customValues: tdevYTicks, margin: 27, formatter: (v: number) => fmt(v), ...LABEL },
      name: '{a|Time deviation (10}{s|-10}{a| s)}', nameLocation: 'middle', nameGap: 78,
      nameTextStyle: { ...NAME, rich: RICH_NAME },
    },
    {
      type: 'value', gridIndex: 3, position: 'right', min: -11, max: -8.5, interval: 0.5,
      splitLine: { show: false }, axisLine: AXIS_LINE,
      axisTick: { show: true, inside: false, length: 14, lineStyle: TICK },
      axisLabel: { show: false },
    },
  ];

  const xStyle = { color: 'transparent', borderColor: '#000', borderWidth: 1 };
  const common = { type: 'scatter', silent: true, progressive: 0, animation: false };

  const series = [
    {
      ...common, name: 'GPS P3 black', xAxisIndex: 0, yAxisIndex: 0, symbol: X_MARK, symbolSize: 7,
      itemStyle: xStyle,
      data: [
        ...segData(SEG1_START, blackSeg1), ...segData(SEG1_START + HALF_STEP, blackSeg1b),
        ...segData(SEG2_START, blackSeg2), ...segData(SEG2_START + HALF_STEP, blackSeg2b),
      ],
    },
    {
      ...common, name: 'GPS P3 blue', xAxisIndex: 0, yAxisIndex: 0, symbol: 'rect', symbolSize: 3.2,
      itemStyle: { color: BLUE },
      data: [
        ...segData(SEG1_START, blueSeg1), ...segData(SEG1_START + HALF_STEP, blueSeg1b),
        ...segData(SEG2_START, blueSeg2), ...segData(SEG2_START + HALF_STEP, blueSeg2b),
      ],
    },
    {
      ...common, name: 'residuals', xAxisIndex: 4, yAxisIndex: 2, symbol: X_MARK, symbolSize: 5,
      itemStyle: xStyle,
      data: [
        ...segData(SEG1_START, residSeg1), ...segData(SEG1_START + HALF_STEP, residSeg1b),
        ...segData(SEG2_START, residSeg2), ...segData(SEG2_START + HALF_STEP, residSeg2b),
        ...residOutliers,
      ],
    },
    {
      ...common, name: 'MDEV', xAxisIndex: 8, yAxisIndex: 4, symbol: 'circle', symbolSize: 11,
      itemStyle: { color: '#000' },
      label: {
        show: true, position: 'inside', offset: [0, -13], color: RED, fontFamily: FONT_H, fontSize: 19, fontWeight: 'bold',
        formatter: (p: any) => modAdevLabels[p.dataIndex],
      },
      data: logTau.map((x, i) => [x, modAdev[i]]),
    },
    {
      ...common, name: 'MDEV markers', xAxisIndex: 8, yAxisIndex: 4, symbol: HALF_DOT, symbolSize: [9, 4.5],
      symbolOffset: [0, -2.25], clip: false, itemStyle: { color: '#000' },
      label: {
        show: true, position: 'inside', offset: [0, -10.75], color: RED, fontFamily: FONT_H, fontSize: 19, fontWeight: 'bold',
        formatter: (p: any) => markerNames[p.dataIndex],
      },
      data: markerLogTau.map((x) => [x, -17.5]),
    },
    {
      ...common, name: 'TDEV', xAxisIndex: 11, yAxisIndex: 6, symbol: 'circle', symbolSize: 11,
      itemStyle: { color: '#000' },
      label: {
        show: true, position: 'inside', offset: [0, -23], color: RED, fontFamily: FONT_H, fontSize: 17, fontWeight: 'bold',
        formatter: (p: any) => tdevLabels[p.dataIndex],
      },
      data: logTau.map((x, i) => [x, tdev[i]]),
    },
    {
      ...common, name: 'TDEV markers', xAxisIndex: 11, yAxisIndex: 6, symbol: HALF_DOT, symbolSize: [11, 5.5],
      symbolOffset: [0, -2.75], clip: false, itemStyle: { color: '#000' },
      label: {
        show: true, position: 'inside', offset: [0, -21.25], color: RED, fontFamily: FONT_H, fontSize: 19, fontWeight: 'bold',
        formatter: (p: any) => markerNames[p.dataIndex],
      },
      data: markerLogTau.map((x) => [x, -11]),
    },
  ];

  const titleRich = {
    a: { fontFamily: FONT, fontSize: 26, fontWeight: 'bold', fill: '#000', lineHeight: 34 },
    s: { fontFamily: FONT, fontSize: 18, fontWeight: 'bold', fill: '#000', lineHeight: 18, verticalAlign: 'bottom' },
  };

  const graphic = {
    elements: [
      {
        type: 'text', x: 199, y: 800, z: 100,
        style: {
          text: '{a|_2508_SG02PT13_SG01PT13.PPAA5     }{a|GPS P3 (x}{s|black}{a|) ,  }{a|GPS P3 (o}{s|blue}{a|)  }{a|2715Ep}',
          verticalAlign: 'middle', rich: titleRich,
        },
      },
      {
        type: 'text', x: 202, y: 1372, z: 100,
        style: {
          text: '{a|Max Smoothing Residual: _-7.229_-2.400_-4.984  }{a|Sigma= 0.565ns}',
          verticalAlign: 'middle',
          rich: { a: { fontFamily: FONT_H, fontSize: 25, fontWeight: 'bold', fill: '#000' } },
        },
      },
      {
        type: 'text', x: 213, y: 1532, z: 100,
        style: { text: '\u03c4 = 1081s', fontFamily: FONT_H, fontSize: 16, fontWeight: 'bold', fill: '#000', verticalAlign: 'middle' },
      },
      {
        type: 'rect', z: 50, shape: { x: 146, y: 1590, width: 21.5, height: 26 }, style: { fill: '#fff' },
      },
    ],
  };

  return {
    animation: false,
    backgroundColor: '#fff',
    textStyle: { fontFamily: FONT },
    grid: [
      { left: 161.5, top: 125, width: 1259, height: 720, outerBoundsMode: 'none' },
      { left: 161.5, top: 953.3, width: 1259, height: 449.4, outerBoundsMode: 'none' },
      { left: 169, top: 1511, width: 540, height: 452, outerBoundsMode: 'none' },
      { left: 853, top: 1511, width: 540, height: 451, outerBoundsMode: 'none' },
    ],
    xAxis,
    yAxis,
    series,
    graphic,
  };
}

export default function App() {
  const ref = useRef<HTMLDivElement>(null);
  useEffect(() => {
    if (!ref.current) return;
    const chart = echarts.init(ref.current, null, { renderer: 'svg' });
    chart.setOption(buildOption());
    return () => chart.dispose();
  }, []);
  return (
    <div
      ref={ref}
      style={{ position: 'absolute', left: 0, top: 0, width: 1488, height: 2105, background: '#fff' }}
    />
  );
}
